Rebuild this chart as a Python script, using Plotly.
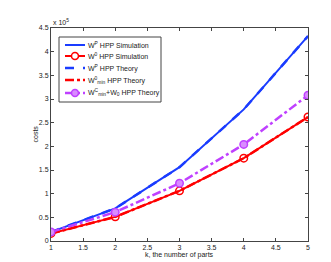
import plotly.graph_objects as go

k = [1, 2, 3, 4, 5]
# costs in units of 1e5
wp_sim = [0.19, 0.69, 1.56, 2.78, 4.33]
w0_sim = [0.16, 0.51, 1.06, 1.75, 2.62]
wp_theory = [0.19, 0.69, 1.56, 2.78, 4.33]
w0min_theory = [0.16, 0.51, 1.06, 1.75, 2.62]
wcmin_w0_theory = [0.19, 0.61, 1.22, 2.04, 3.08]
xticks = [1, 1.5, 2, 2.5, 3, 3.5, 4, 4.5, 5]
yticks = [0, 0.5, 1, 1.5, 2, 2.5, 3, 3.5, 4, 4.5]
legend_names = [
    "W<sup>P</sup> HPP Simulation",
    "W<sup>0</sup> HPP Simulation",
    "W<sup>P</sup> HPP Theory",
    "W<sup>0</sup><sub>min</sub> HPP Theory",
    "W<sup>C</sup><sub>min</sub>+W<sub>0</sub> HPP Theory",
]

BLUE = "#1a3cff"
RED = "#ff0000"
PURPLE = "#bf40ff"
PFILL = "#d98cff"
FONT = "Liberation Sans, Arial, sans-serif"
TXT = "#222"

W, H = 331, 262
L, R, T, B = 43, 31, 20, 29
PW, PH = W - L - R, H - T - B


def px(x):
    return (x - L) / PW


def py(y):
    return (H - B - y) / PH


styles = [
    dict(line=dict(color=BLUE, width=2), marker=None),
    dict(line=dict(color=RED, width=2),
         marker=dict(symbol="circle-open", size=7.5, color=RED, line=dict(width=1.5))),
    dict(line=dict(color=BLUE, width=2.5, dash="dash"), marker=None),
    dict(line=dict(color=RED, width=2.5, dash="dashdot"), marker=None),
    dict(line=dict(color=PURPLE, width=2.5, dash="dashdot"),
         marker=dict(symbol="circle", size=7.5, color=PFILL, line=dict(color=PURPLE, width=1.5))),
]
series = [wp_sim, w0_sim, wp_theory, w0min_theory, wcmin_w0_theory]

fig = go.Figure()
for ys, st, nm in zip(series, styles, legend_names):
    kw = dict(x=k, y=ys, name=nm, showlegend=False, line=st["line"],
              mode="lines+markers" if st["marker"] else "lines")
    if st["marker"]:
        kw["marker"] = st["marker"]
    fig.add_trace(go.Scatter(**kw))

axis_common = dict(showgrid=False, zeroline=False, showline=True, linecolor="#444", linewidth=1,
                   mirror="ticks", ticks="inside", ticklen=3, tickcolor="#444",
                   tickfont=dict(size=7, family=FONT, color=TXT))
fig.update_xaxes(range=[1, 5], tickvals=xticks, ticktext=[f"{v:g}" for v in xticks], **axis_common)
fig.update_yaxes(range=[0, 4.5], tickvals=yticks, ticktext=[f"{v:g}" for v in yticks], **axis_common)

shapes = []
annotations = []

# axis titles and exponent
annotations.append(dict(xref="paper", yref="paper", x=0.5, y=py(247), xanchor="center", yanchor="middle",
                        text="k, the number of parts", showarrow=False, font=dict(size=7, family=FONT, color=TXT)))
annotations.append(dict(xref="paper", yref="paper", x=px(27), y=0.5, xanchor="center", yanchor="middle",
                        text="costs", textangle=-90, showarrow=False, font=dict(size=7, family=FONT, color=TXT)))
annotations.append(dict(xref="paper", yref="paper", x=0, y=1, xanchor="left", yanchor="bottom",
                        text="x 10<sup>5</sup>", showarrow=False, font=dict(size=7, family=FONT, color=TXT)))

# custom legend box
shapes.append(dict(type="rect", xref="paper", yref="paper", x0=px(51), x1=px(153), y0=py(29), y1=py(94),
                   fillcolor="white", line=dict(color="#444", width=1), layer="above"))
row_y = [37, 48, 60, 72, 85]
for yy, st, nm in zip(row_y, styles, legend_names):
    ln = dict(color=st["line"]["color"], width=st["line"]["width"])
    if "dash" in st["line"]:
        ln["dash"] = st["line"]["dash"]
    shapes.append(dict(type="line", xref="paper", yref="paper", x0=px(57), x1=px(77), y0=py(yy), y1=py(yy),
                       line=ln, layer="above"))
    if st["marker"]:
        m = st["marker"]
        fill = m["color"] if m["symbol"] == "circle" else "white"
        lc = m["line"].get("color", m["color"])
        shapes.append(dict(type="circle", xref="paper", yref="paper", xsizemode="pixel", ysizemode="pixel",
                           xanchor=px(67), yanchor=py(yy), x0=-3.5, x1=3.5, y0=-3.5, y1=3.5,
                           fillcolor=fill, line=dict(color=lc, width=1.5), layer="above"))
    annotations.append(dict(xref="paper", yref="paper", x=px(78), y=py(yy), xanchor="left", yanchor="middle",
                            text=nm, showarrow=False, font=dict(size=7, family=FONT, color=TXT)))

fig.update_layout(
    width=W, height=H,
    margin=dict(l=L, r=R, t=T, b=B),
    plot_bgcolor="white", paper_bgcolor="white",
    font=dict(family=FONT, size=7, color=TXT),
    showlegend=False,
    shapes=shapes,
    annotations=annotations,
)

fig.write_html("out.html")
